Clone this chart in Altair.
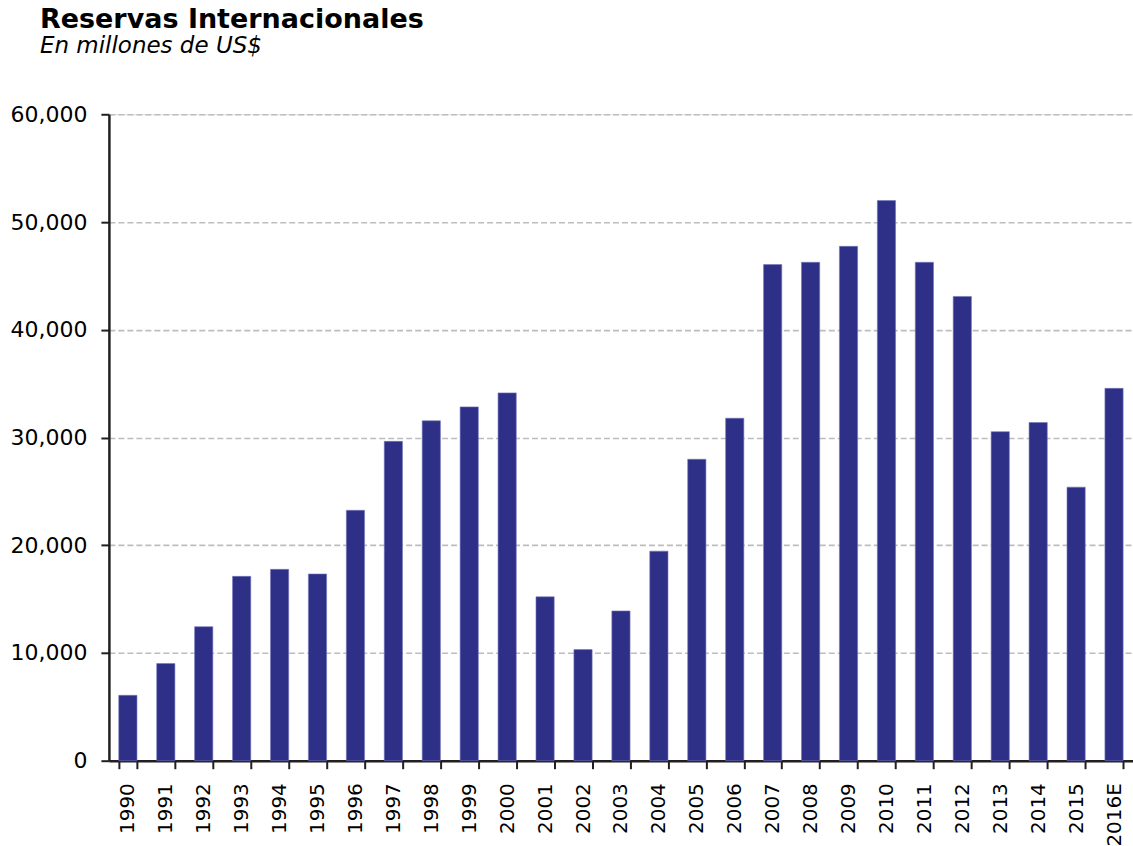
import altair as alt
import pandas as pd

years = ["1990", "1991", "1992", "1993", "1994", "1995", "1996", "1997", "1998",
         "1999", "2000", "2001", "2002", "2003", "2004", "2005", "2006", "2007",
         "2008", "2009", "2010", "2011", "2012", "2013", "2014", "2015", "2016E"]
reserves = [6070, 9020, 12440, 17110, 17760, 17330, 23240, 29640, 31550,
            32840, 34140, 15210, 10310, 13900, 19450, 27980, 31790, 46050,
            46260, 47740, 51990, 46260, 43090, 30540, 31390, 25390, 34560]
y_ticks = [0, 10000, 20000, 30000, 40000, 50000, 60000]

df = pd.DataFrame({"year": years, "value": reserves})

FONT = "DejaVu Sans"

chart = alt.Chart(df).mark_bar(
    color="#2E3087", stroke="#7476bd", strokeWidth=0.6
).encode(
    x=alt.X("year:N", sort=years, title=None,
            scale=alt.Scale(paddingInner=0.52, paddingOuter=0.26),
            axis=alt.Axis(labelAngle=-90, labelFont=FONT, labelFontSize=20,
                          labelColor="black", labelPadding=14,
                          tickBand="extent", tickSize=8, tickWidth=2,
                          tickColor="#231f20", domainColor="#231f20",
                          domainWidth=2.5, grid=False, labelAlign="right",
                          labelBaseline="middle")),
    y=alt.Y("value:Q", title=None,
            scale=alt.Scale(domain=[0, 60000], nice=False),
            axis=alt.Axis(values=y_ticks, format=",d", labelFont=FONT,
                          labelFontSize=22, labelColor="black", labelPadding=14,
                          tickSize=8, tickWidth=2, tickColor="#231f20",
                          domainColor="#231f20", domainWidth=2.5,
                          grid=True, gridColor="#bdbdbd", gridWidth=1.6,
                          gridDash=[6, 3])),
).properties(
    width=1025,
    height=647,
    autosize=alt.AutoSizeParams(type="none"),
    padding={"left": 109, "top": 114, "right": 0, "bottom": 85},
    title=alt.TitleParams(
        text="Reservas Internacionales",
        subtitle="En millones de US$",
        anchor="start", frame="group", dx=-69, offset=44,
        font=FONT, fontSize=27, fontWeight="bold", color="black",
        subtitleFont=FONT, subtitleFontSize=23, subtitleFontStyle="italic",
        subtitleColor="black", subtitlePadding=1,
    ),
).configure_view(stroke=None).configure(background="white")

chart.save("out.html", embed_options={"renderer": "svg", "actions": False})
